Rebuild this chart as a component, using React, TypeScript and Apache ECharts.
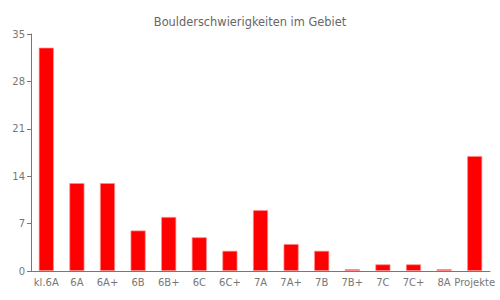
import React, { useEffect, useRef } from "react";
import * as echarts from "echarts";

const categories = ["kl.6A", "6A", "6A+", "6B", "6B+", "6C", "6C+", "7A", "7A+", "7B", "7B+", "7C", "7C+", "8A", "Projekte"];
const counts = [33, 13, 13, 6, 8, 5, 3, 9, 4, 3, 0, 1, 1, 0, 17];
const titleText = "Boulderschwierigkeiten im Gebiet";

export default function App() {
  const ref = useRef<HTMLDivElement>(null);
  useEffect(() => {
    const chart = echarts.init(ref.current!, null, { renderer: "svg" });
    const font = "DejaVu Sans";
    chart.setOption({
      animation: false,
      title: {
        text: titleText,
        left: "center",
        top: 11,
        textStyle: { fontFamily: font, fontSize: 11.4, fontWeight: "normal", color: "#666" },
      },
      grid: { left: 31, right: 10, top: 34, bottom: 29 },
      xAxis: {
        type: "category",
        data: categories,
        axisLine: { lineStyle: { color: "#777" } },
        axisTick: { alignWithLabel: true, length: 4, lineStyle: { color: "#777" } },
        axisLabel: { fontFamily: font, fontSize: 10, color: "#777", margin: 6, interval: 0 },
      },
      yAxis: {
        type: "value",
        min: 0,
        max: 35,
        interval: 7,
        axisLine: { show: true, lineStyle: { color: "#777" } },
        axisTick: { show: true, length: 4, lineStyle: { color: "#777" } },
        axisLabel: { fontFamily: font, fontSize: 10, color: "#777", margin: 6 },
        splitLine: { show: false },
      },
      series: [
        {
          type: "bar",
          data: counts,
          barWidth: "50%",
          barMinHeight: 2,
          itemStyle: { color: "#ff0000", borderColor: "rgba(255,140,140,0.7)", borderWidth: 1 },
        },
      ],
    });
    return () => chart.dispose();
  }, []);
  return <div ref={ref} style={{ width: 500, height: 300, position: "absolute", left: 0, top: 0 }} />;
}
